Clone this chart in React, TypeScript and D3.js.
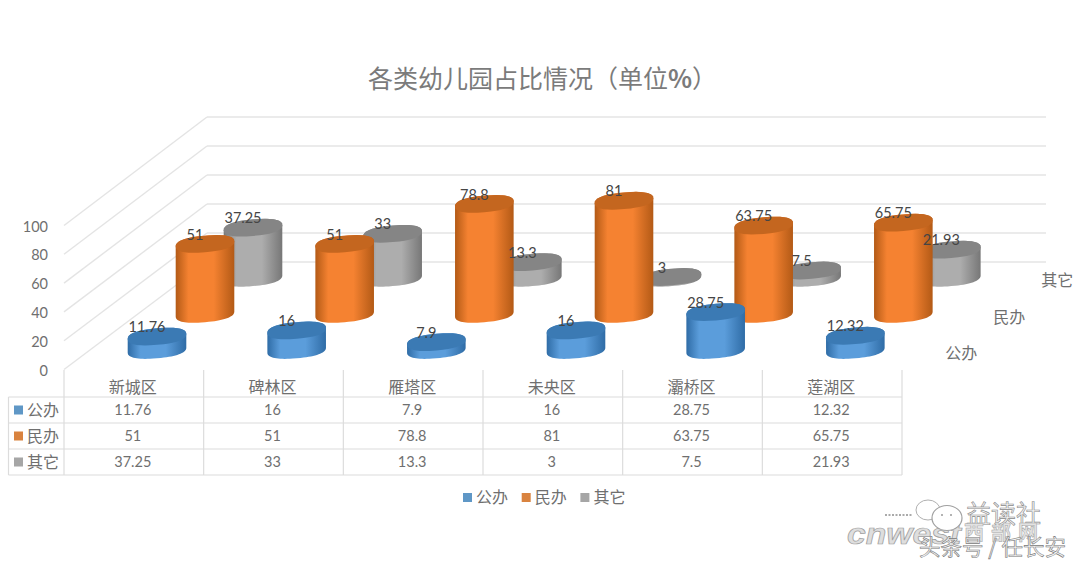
import * as d3 from "d3";

const districts = ["新城区", "碑林区", "雁塔区", "未央区", "灞桥区", "莲湖区"];
const seriesNames = ["公办", "民办", "其它"];
const publicValues = [11.76, 16, 7.9, 16, 28.75, 12.32];
const privateValues = [51, 51, 78.8, 81, 63.75, 65.75];
const otherValues = [37.25, 33, 13.3, 3, 7.5, 21.93];
const allValues = [publicValues, privateValues, otherValues];
const axisTicks = [0, 20, 40, 60, 80, 100];

const FONT = "Lato, 'Noto Sans CJK SC', sans-serif";
const CJK = "'Noto Sans CJK SC', sans-serif";
const textColor = "#6f6f6f";

const swatch = ["#5f97c6", "#d9833f", "#a6a6a6"];
const palette = [
  { edge: "#2f6ca6", mid: "#5b9ddb", top: "#3b7ab4" },
  { edge: "#b35a16", mid: "#f58231", top: "#c4661f" },
  { edge: "#777777", mid: "#adadad", top: "#858585" },
];

// table columns double as the category scale
const x = d3.scaleBand(districts, [64, 902]);
// depth: each series sits further back and to the right
const depthX = d3.scalePoint(seriesNames, [93, 189]);
const baseY = d3.scalePoint(seriesNames, [350, 277.8]);
const tickY = d3.scaleLinear([0, 100], [369.5, 225.5]);
const wallY = d3.scaleLinear([0, 100], [262, 117]);

const RX = 29.3;
const RY = 8.3;
const SHEAR = -0.085;
const ROUND = 2 / 2.4; // a bit squarer than an ellipse, like the excel pillars

const pathOf = d3.line();

// rim of a pillar between two angles, t > 0 being the near side
function rim(cx, cy, from, to) {
  const n = 36;
  return d3.range(n + 1).map((i) => {
    const t = from + ((to - from) * i) / n;
    const c = Math.cos(t);
    const s = Math.sin(t);
    const px = RX * Math.sign(c) * Math.abs(c) ** ROUND;
    const py = RY * Math.sign(s) * Math.abs(s) ** ROUND;
    return [cx + px, cy + py + px * SHEAR];
  });
}

function Cylinder({ cx, top, base, name, index }) {
  const side = [...rim(cx, base, Math.PI, 0), ...rim(cx, top, 0, -Math.PI)];
  return (
    <g>
      <path d={pathOf(side) + "Z"} fill={`url(#grad${index})`} />
      <path
        d={pathOf(rim(cx, top, 0, 2 * Math.PI)) + "Z"}
        fill={palette[index].top}
      >
        <title>{name}</title>
      </path>
    </g>
  );
}

export default function App() {
  const rows = [397, 423, 449, 475];
  const drawOrder = [2, 1, 0];
  return (
    <svg
      width={1080}
      height={564}
      viewBox="0 0 1080 564"
      style={{ position: "fixed", left: 0, top: 0, background: "#fff" }}
    >
      <defs>
        {palette.map((p, i) => (
          <linearGradient key={i} id={`grad${i}`} x1="0" x2="1" y1="0" y2="0">
            <stop offset="0" stopColor={p.edge} />
            <stop offset="0.22" stopColor={p.mid} />
            <stop offset="0.65" stopColor={p.mid} />
            <stop offset="1" stopColor={p.edge} />
          </linearGradient>
        ))}
      </defs>

      <text x={368} y={88} fontFamily={CJK} fontSize={25} fill="#7b7b7b">
        各类幼儿园占比情况（单位<tspan fontWeight={700}>%</tspan>）
      </text>

      {/* walls */}
      <g stroke="#e4e4e4" strokeWidth={1.4} fill="none">
        {axisTicks.map((t) => (
          <g key={t}>
            <line x1={207} x2={1046} y1={wallY(t)} y2={wallY(t)} />
            <line x1={64} x2={207} y1={tickY(t)} y2={wallY(t)} />
          </g>
        ))}
      </g>
      {axisTicks.map((t) => (
        <text
          key={t}
          x={48}
          y={tickY(t) + 1}
          dy="0.35em"
          textAnchor="end"
          fontFamily={FONT}
          fontSize={14.5}
          fill={textColor}
        >
          {t}
        </text>
      ))}

      {/* cylinders, back row first */}
      {drawOrder.map((s) => {
        const name = seriesNames[s];
        const base = baseY(name);
        const y = d3.scaleLinear([0, 100], [base + 3.5, base + 3.5 - 144]);
        return (
          <g key={name}>
            {districts.map((d, i) => (
              <Cylinder
                key={d}
                cx={x(d) + depthX(name)}
                top={Math.min(y(allValues[s][i]), base)}
                base={base}
                name={name}
                index={s}
              />
            ))}
          </g>
        );
      })}

      {/* value labels stay on top of every cylinder */}
      {drawOrder.map((s) => {
        const name = seriesNames[s];
        const base = baseY(name);
        const y = d3.scaleLinear([0, 100], [base + 3.5, base + 3.5 - 144]);
        return districts.map((d, i) => (
          <text
            key={name + d}
            x={x(d) + depthX(name) - 10}
            y={y(allValues[s][i]) - 9.5}
            dy="0.35em"
            textAnchor="middle"
            fontFamily={FONT}
            fontSize={14.5}
            fill="#454545"
          >
            {allValues[s][i]}
          </text>
        ));
      })}

      {/* series names along the depth axis */}
      {seriesNames.map((name) => (
        <text
          key={name}
          x={x(districts[5]) + depthX(name) + 106}
          y={baseY(name) + 3}
          dy="0.35em"
          textAnchor="middle"
          fontFamily={CJK}
          fontSize={16}
          fill={textColor}
        >
          {name}
        </text>
      ))}

      {/* data table */}
      <g stroke="#dcdcdc" strokeWidth={1.2}>
        {rows.map((r) => (
          <line key={r} x1={8.5} x2={902} y1={r} y2={r} />
        ))}
        <line x1={8.5} x2={8.5} y1={397} y2={475} />
        {districts.map((d) => (
          <line key={d} x1={x(d)} x2={x(d)} y1={370} y2={475} />
        ))}
        <line x1={902} x2={902} y1={370} y2={475} />
      </g>
      {districts.map((d) => (
        <text
          key={d}
          x={x(d) + x.bandwidth() / 2 - 1}
          y={387}
          dy="0.35em"
          textAnchor="middle"
          fontFamily={CJK}
          fontSize={16}
          fill={textColor}
        >
          {d}
        </text>
      ))}
      {seriesNames.map((name, s) => (
        <g key={name}>
          <rect x={14} y={rows[s] + 8.5} width={9} height={9} fill={swatch[s]} />
          <text
            x={27}
            y={rows[s] + 13}
            dy="0.35em"
            fontFamily={CJK}
            fontSize={16}
            fill={textColor}
          >
            {name}
          </text>
          {districts.map((d, i) => (
            <text
              key={d}
              x={x(d) + x.bandwidth() / 2 - 1}
              y={rows[s] + 13}
              dy="0.35em"
              textAnchor="middle"
              fontFamily={FONT}
              fontSize={14.5}
              fill={textColor}
            >
              {allValues[s][i]}
            </text>
          ))}
        </g>
      ))}

      {/* legend */}
      {seriesNames.map((name, s) => (
        <g key={name} transform={`translate(${463 + s * 58.7},0)`}>
          <rect x={0} y={493} width={9} height={9} fill={swatch[s]} />
          <text
            x={13}
            y={497.5}
            dy="0.35em"
            fontFamily={CJK}
            fontSize={16}
            fill={textColor}
          >
            {name}
          </text>
        </g>
      ))}

      {/* watermarks, embossed look */}
      <g>
        <text
          x={847}
          y={544}
          fontFamily="'Liberation Sans', sans-serif"
          fontWeight={700}
          fontStyle="italic"
          fontSize={30}
          textLength={114}
          lengthAdjust="spacingAndGlyphs"
          fill="#dedede"
          stroke="#9c9c9c"
          strokeWidth={0.7}
        >
          cnwest
        </text>
        <line x1={885} x2={912} y1={515} y2={515} stroke="#aaaaaa" strokeWidth={2} strokeDasharray="2 1.5" />
        <ellipse cx={928} cy={510} rx={12} ry={10} fill="#fff" stroke="#b0b0b0" strokeWidth={1} />
        <ellipse cx={947} cy={518} rx={15} ry={12.5} fill="#fff" stroke="#a0a0a0" strokeWidth={1.2} />
        <circle cx={942} cy={515} r={1} fill="#9a9a9a" />
        <circle cx={951} cy={515} r={1} fill="#9a9a9a" />
        <text x={966} y={523} fontFamily={CJK} fontSize={25} fill="#f4f4f4" stroke="#8a8a8a" strokeWidth={0.6}>
          益读社
        </text>
        <text
          x={964}
          y={540}
          fontFamily={CJK}
          fontWeight={700}
          fontSize={20}
          letterSpacing={7}
          fill="#e2e2e2"
          stroke="#a4a4a4"
          strokeWidth={0.5}
        >
          西部网
        </text>
        <text x={919} y={555} fontFamily={CJK} fontSize={21.5} fill="#f4f4f4" stroke="#777777" strokeWidth={0.6}>
          头条号 / 任长安
        </text>
      </g>
    </svg>
  );
}
